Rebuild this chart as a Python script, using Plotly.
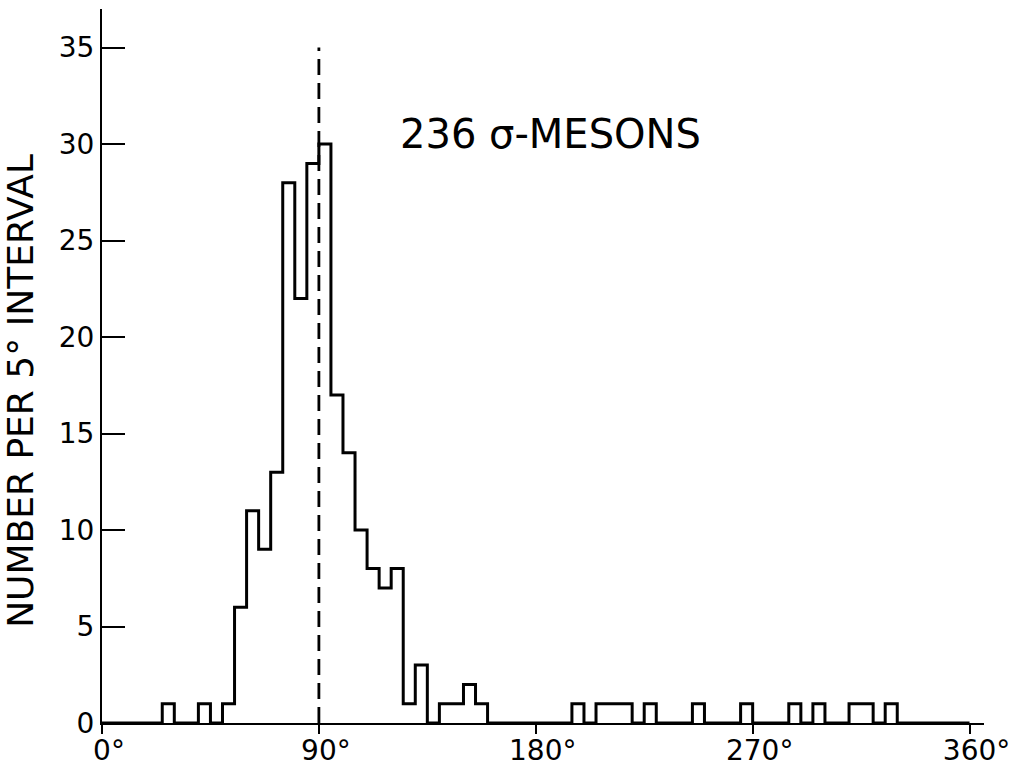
import plotly.graph_objects as go

# Histogram of 236 sigma-mesons, 5-degree bins from 0 to 360
bin_width = 5
counts = [
    0, 0, 0, 0, 0, 1, 0, 0, 1, 0,      # 0-50
    1, 6, 11, 9, 13, 28, 22, 29, 30, 17,  # 50-100
    14, 10, 8, 7, 8, 1, 3, 0, 1, 1,    # 100-150
    2, 1, 0, 0, 0, 0, 0, 0, 0, 1,      # 150-200
    0, 1, 1, 1, 0, 1, 0, 0, 0, 1,      # 200-250
    0, 0, 0, 1, 0, 0, 0, 1, 0, 1,      # 250-300
    0, 0, 1, 1, 0, 1, 0, 0, 0, 0,      # 300-350
    0, 0,                              # 350-360
]
x_tickvals = [0, 90, 180, 270, 360]
x_ticktext = ["0°", "90°", "180°", "270°", "360°"]
y_tickvals = [0, 5, 10, 15, 20, 25, 30, 35]
y_ticktext = ["0", "5", "10", "15", "20", "25", "30", "35"]
title_text = "236 σ-MESONS"
y_title = "NUMBER PER 5° INTERVAL"
ref_angle = 90

edges = [i * bin_width for i in range(len(counts) + 1)]
step_y = counts + [counts[-1]]

FONT = "DejaVu Sans"

fig = go.Figure()
fig.add_trace(go.Scatter(
    x=edges, y=step_y, mode="lines", line=dict(shape="hv", color="black", width=3),
    hoverinfo="skip", showlegend=False,
))
fig.add_trace(go.Scatter(
    x=[ref_angle, ref_angle], y=[0, 35], mode="lines",
    line=dict(color="black", width=2.8, dash="16px,8px"),
    hoverinfo="skip", showlegend=False,
))

fig.add_annotation(
    x=186, y=30.5, xref="x", yref="y", text=title_text, showarrow=False,
    font=dict(family=FONT, size=40, color="black"),
)
fig.add_annotation(
    x=-0.092, y=0.465, xref="paper", yref="paper", text=y_title, showarrow=False,
    textangle=-90, font=dict(family=FONT, size=36, color="black"),
    xanchor="center", yanchor="middle",
)

fig.update_layout(
    width=1023, height=769,
    margin=dict(l=102, r=39, t=9, b=46),
    paper_bgcolor="white", plot_bgcolor="white",
    font=dict(family=FONT, color="black"),
    xaxis=dict(
        range=[0, 366], showgrid=False, zeroline=False, automargin=False,
        showline=True, linecolor="black", linewidth=2.2,
        tickmode="array", tickvals=x_tickvals, ticktext=x_ticktext,
        ticks="outside", ticklen=9, tickwidth=2, tickcolor="black",
        tickfont=dict(family=FONT, size=28, color="black"),
        ticklabelshift=7, ticklabelstandoff=-8,
    ),
    yaxis=dict(
        range=[0, 37], showgrid=False, zeroline=False, automargin=False,
        showline=True, linecolor="black", linewidth=2.2,
        tickmode="array", tickvals=y_tickvals, ticktext=y_ticktext,
        ticks="inside", ticklen=23, tickwidth=2, tickcolor="black",
        tickfont=dict(family=FONT, size=28, color="black"),
    ),
)

fig.write_html("out.html")
